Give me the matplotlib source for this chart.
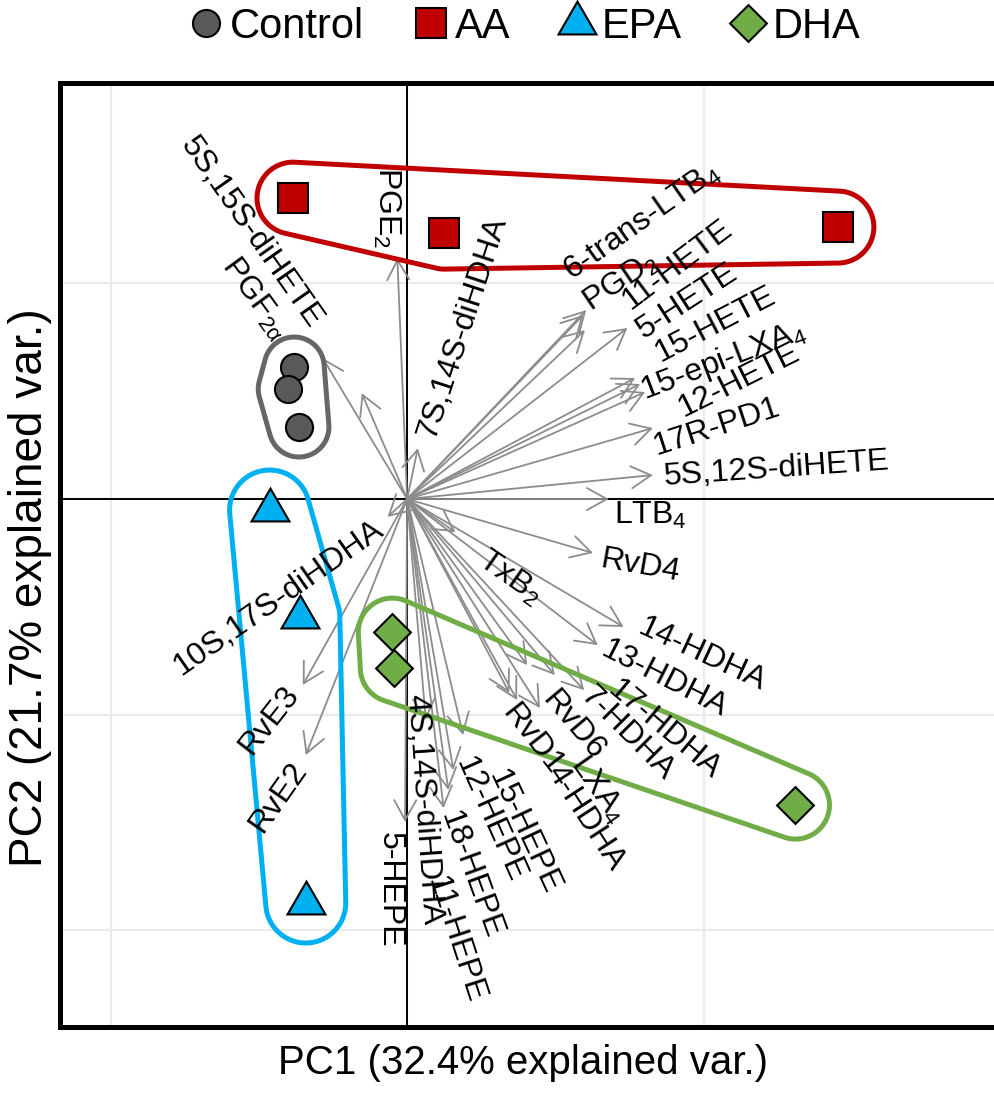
import numpy as np
import matplotlib
matplotlib.use("Agg")
import matplotlib.pyplot as plt
from matplotlib.lines import Line2D
from matplotlib.patches import FancyArrowPatch, Polygon

plt.rcParams['font.family'] = ['Liberation Sans', 'DejaVu Sans']
plt.rcParams['mathtext.fontset'] = 'custom'
plt.rcParams['mathtext.rm'] = 'Liberation Sans'
plt.rcParams['mathtext.it'] = 'Liberation Sans:italic'
plt.rcParams['mathtext.bf'] = 'Liberation Sans:bold'

# ---------------- data: sample scores ----------------
groups = ["Control", "AA", "EPA", "DHA"]
control_pc1 = [-0.381, -0.401, -0.365]
control_pc2 = [0.612, 0.510, 0.334]
aa_pc1 = [-0.385, 0.126, 1.453]
aa_pc2 = [1.395, 1.233, 1.261]
epa_pc1 = [-0.464, -0.362, -0.342]
epa_pc2 = [-0.051, -0.547, -1.873]
dha_pc1 = [-0.050, -0.043, 1.310]
dha_pc2 = [-0.617, -0.784, -1.419]

# ---------------- data: variable loadings ----------------
variables = [
    "PGE$_\\mathregular{2}$", "5S,15S-diHETE", "PGF$_\\mathregular{2α}$", "7S,14S-diHDHA",
    "6-trans-LTB$_\\mathregular{4}$", "PGD$_\\mathregular{2}$", "11-HETE", "5-HETE",
    "15-HETE", "15-epi-LXA$_\\mathregular{4}$", "12-HETE", "17R-PD1",
    "5S,12S-diHETE", "LTB$_\\mathregular{4}$", "RvD4", "TxB$_\\mathregular{2}$",
    "14-HDHA", "13-HDHA", "17-HDHA", "7-HDHA",
    "RvD6", "RvD1", "LXA$_\\mathregular{4}$", "4-HDHA",
    "15-HEPE", "12-HEPE", "18-HEPE", "11-HEPE",
    "4S,14S-diHDHA", "5-HEPE", "10S,17S-diHDHA", "RvE3", "RvE2",
]
load_pc1 = [
    -0.033, -0.153, -0.285, 0.036,
    0.604, 0.594, 0.600, 0.743,
    0.769, 0.786, 0.803, 0.829,
    0.829, 0.680, 0.627, 0.163,
    0.730, 0.643, 0.597, 0.498,
    0.405, 0.345, 0.448, 0.371,
    0.189, 0.156, 0.123, 0.139,
    0.063, -0.007, -0.066, -0.352, -0.342,
]
load_pc2 = [
    1.117, 0.491, 0.654, 0.236,
    0.876, 0.853, 0.783, 0.793,
    0.561, 0.533, 0.496, 0.329,
    0.111, 0.000, -0.250, -0.153,
    -0.593, -0.677, -0.886, -0.816,
    -0.770, -0.899, -0.969, -0.932,
    -1.094, -1.256, -1.433, -1.349,
    -1.025, -1.497, -0.083, -0.862, -1.187,
]

# ---------------- layout: label placement ----------------
label_x = [
    -0.070, -0.524, -0.514, 0.189,
    0.793, 0.720, 0.912, 0.945,
    1.041, 1.065, 1.118, 1.045,
    1.245, 0.819, 0.786, 0.348,
    0.995, 0.869, 0.866, 0.743,
    0.561, 0.421, 0.643, 0.600,
    0.395, 0.279, 0.216, 0.163,
    0.056, -0.060, -0.434, -0.464, -0.434,
]
label_y = [
    1.349, 1.233, 0.932, 0.797,
    1.284, 1.006, 1.085, 0.918,
    0.807, 0.640, 0.552, 0.334,
    0.139, -0.074, -0.311, -0.366,
    -0.723, -0.834, -1.071, -1.085,
    -1.048, -1.117, -1.349, -1.479,
    -1.544, -1.488, -1.743, -2.045,
    -1.442, -1.813, -0.459, -1.025, -1.382,
]
label_rot = [
    -90, -55, -54, 72,
    35, 34, 37, 33,
    27.5, 21, 26.5, 18,
    4, 0, -10, -35,
    -25, -27, -40, -45,
    -50, -52, -55, -57,
    -65, -66, -70, -72,
    -86, -90, 35, 52, 55,
]

colors = {"Control": "#595959", "AA": "#C00000", "EPA": "#00B0F0", "DHA": "#70AD47"}
outline = {"Control": "#666666", "AA": "#C00000", "EPA": "#00B0F0", "DHA": "#70AD47"}
markers = {"Control": "o", "AA": "s", "EPA": (3, 0, 0), "DHA": (4, 0, 0)}
msizes = {"Control": 19.5, "AA": 22, "EPA": 31.5, "DHA": 26.5}
radius = {"Control": 30, "AA": 36, "EPA": 40, "DHA": 34}

W, H = 995, 1095
fig = plt.figure(figsize=(W / 100, H / 100), dpi=100)
ax = fig.add_axes([60 / W, (H - 1027) / H, (1000 - 60) / W, (1027 - 83) / H])
ax.set_xlim(-1.171, 1.947)
ax.set_ylim(-2.448, 1.929)

ax.set_xticks([-1, 0, 1, 2])
ax.set_yticks([-2, -1, 0, 1])
ax.grid(True, color="#ebebeb", lw=1.6, zorder=0)
ax.set_axisbelow(True)
ax.tick_params(length=0, labelbottom=False, labelleft=False)
for s in ["left", "top", "bottom"]:
    ax.spines[s].set_linewidth(3.6)
    ax.spines[s].set_color("black")
ax.spines["right"].set_visible(False)
ax.axhline(0, color="black", lw=1.4, zorder=1)
ax.axvline(0, color="black", lw=1.4, zorder=1)

# arrows
for x, y in zip(load_pc1, load_pc2):
    ax.add_patch(FancyArrowPatch((0, 0), (x, y),
                                 arrowstyle="->,head_length=0.65,head_width=0.36",
                                 mutation_scale=22, color="#8c8c8c", lw=1.3,
                                 shrinkA=0, shrinkB=0, zorder=2))

# labels
for name, lx, ly, rot in zip(variables, label_x, label_y, label_rot):
    ax.text(lx, ly, name, rotation=rot, rotation_mode="anchor",
            ha="center", va="center", fontsize=23, color="black", zorder=4)


def convex_hull(points):
    pts = sorted(map(tuple, points))
    def cross(o, a, b):
        return (a[0] - o[0]) * (b[1] - o[1]) - (a[1] - o[1]) * (b[0] - o[0])
    lower = []
    for p in pts:
        while len(lower) >= 2 and cross(lower[-2], lower[-1], p) <= 0:
            lower.pop()
        lower.append(p)
    upper = []
    for p in reversed(pts):
        while len(upper) >= 2 and cross(upper[-2], upper[-1], p) <= 0:
            upper.pop()
        upper.append(p)
    return np.array(lower[:-1] + upper[:-1])


def enclosure(xs, ys, r_px, color):
    pts = ax.transData.transform(np.column_stack([xs, ys]))
    th = np.linspace(0, 2 * np.pi, 180, endpoint=False)
    circ = r_px * np.column_stack([np.cos(th), np.sin(th)])
    cloud = np.vstack([p + circ for p in pts])
    hull = convex_hull(cloud)
    data = ax.transData.inverted().transform(hull)
    ax.add_patch(Polygon(data, closed=True, fill=False, ec=color, lw=3.6,
                         joinstyle="round", zorder=3))


group_data = {
    "Control": (control_pc1, control_pc2),
    "AA": (aa_pc1, aa_pc2),
    "EPA": (epa_pc1, epa_pc2),
    "DHA": (dha_pc1, dha_pc2),
}
for g in groups:
    xs, ys = group_data[g]
    enclosure(xs, ys, radius[g], outline[g])
    ax.plot(xs, ys, ls="none", marker=markers[g], ms=msizes[g],
            mfc=colors[g], mec="black", mew=1.5, zorder=5)

# legend
handles = [Line2D([], [], ls="none", marker=markers[g], ms=msizes[g],
                  mfc=colors[g], mec="black", mew=1.5) for g in groups]
fig.legend(handles, groups, loc="center", bbox_to_anchor=(527 / W, 1 - 27 / H),
           ncol=4, frameon=False, fontsize=30, handlelength=0.6,
           handletextpad=0.28, columnspacing=1.3, borderaxespad=0, borderpad=0)

fig.text(523 / W, 1 - 1063 / H, "PC1 (32.4% explained var.)", ha="center",
         va="center", fontsize=29)
fig.text(30 / W, 1 - 588 / H, "PC2 (21.7% explained var.)", ha="center",
         va="center", rotation=90, fontsize=33)

fig.savefig("out.png", dpi=100)
